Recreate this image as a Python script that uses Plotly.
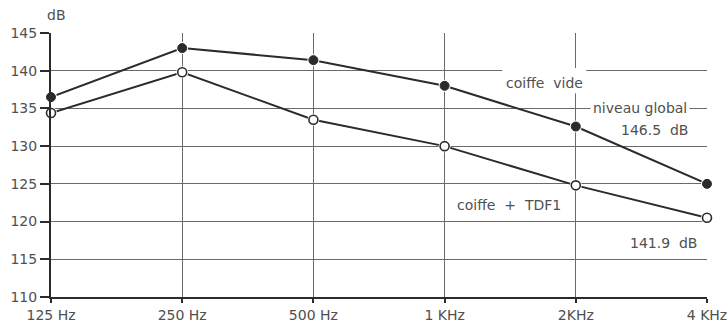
import plotly.graph_objects as go

categories = ["125 Hz", "250 Hz", "500 Hz", "1 KHz", "2KHz", "4 KHz"]
coiffe_vide = [136.5, 143.0, 141.4, 138.0, 132.6, 125.0]
coiffe_tdf1 = [134.4, 139.8, 133.5, 130.0, 124.8, 120.5]
y_ticks = [110, 115, 120, 125, 130, 135, 140, 145]

FONT = "DejaVu Sans, Liberation Sans, sans-serif"
INK = "#2b2b2b"
TXT = "#505050"
GRID = "#6a6a6a"

x_idx = list(range(len(categories)))

fig = go.Figure()
for series, filled in ((coiffe_vide, True), (coiffe_tdf1, False)):
    # connecting line
    fig.add_trace(go.Scatter(
        x=x_idx, y=series, mode="lines", cliponaxis=False,
        line=dict(color=INK, width=2), showlegend=False, hoverinfo="skip"))
    # small white halo around each point (pen-plot look)
    fig.add_trace(go.Scatter(
        x=x_idx, y=series, mode="markers", cliponaxis=False,
        marker=dict(symbol="circle", size=12, color="white", line=dict(width=0)),
        showlegend=False, hoverinfo="skip"))
    fig.add_trace(go.Scatter(
        x=x_idx, y=series, mode="markers", cliponaxis=False,
        marker=dict(symbol="circle", size=9,
                    color=INK if filled else "white",
                    line=dict(color=INK, width=1 if filled else 1.6)),
        showlegend=False, hoverinfo="skip"))

fig.update_layout(
    width=728, height=328,
    margin=dict(l=51, r=21, t=33, b=31, autoexpand=False),
    paper_bgcolor="white", plot_bgcolor="white",
    font=dict(family=FONT, size=14, color=TXT),
)
fig.update_xaxes(
    range=[0, 5], tickmode="array", tickvals=x_idx, ticktext=categories,
    automargin=False,
    showgrid=True, gridcolor=GRID, gridwidth=1,
    showline=True, linecolor=INK, linewidth=2,
    ticks="outside", ticklen=4, tickcolor=INK, tickwidth=1.5,
    tickfont=dict(family=FONT, size=14, color=TXT), zeroline=False,
)
fig.update_yaxes(
    range=[110, 145], tickmode="array", tickvals=y_ticks,
    ticktext=[str(v) for v in y_ticks],
    automargin=False,
    showgrid=True, gridcolor=GRID, gridwidth=1,
    showline=True, linecolor=INK, linewidth=2,
    ticks="outside", ticklen=9, tickcolor=INK, tickwidth=2,
    tickfont=dict(family=FONT, size=14, color=TXT), zeroline=False,
)

# white patch behind "coiffe vide" that interrupts the grid
fig.add_shape(type="rect", xref="x", yref="y", x0=3.44, x1=4.08, y0=137.0, y1=140.35,
              fillcolor="white", line=dict(width=0), layer="between")

ann = dict(showarrow=False, font=dict(family=FONT, size=14, color=TXT))
fig.add_annotation(x=3.765, y=138.4, text="coiffe  vide", **ann)
fig.add_annotation(x=4.49, y=135.0, text="niveau global", bgcolor="white", borderpad=2, **ann)
fig.add_annotation(x=4.60, y=132.1, text="146.5  dB", **ann)
fig.add_annotation(x=3.49, y=122.2, text="coiffe  +  TDF1", **ann)
fig.add_annotation(x=4.67, y=117.2, text="141.9  dB", **ann)
fig.add_annotation(xref="paper", yref="paper", x=0.009, y=1.0, yshift=18,
                   xanchor="center", yanchor="middle", text="dB", **ann)

fig.write_html(
    "out.html",
    config={"displayModeBar": False},
    post_script="document.body.style.margin='0';document.body.style.overflow='hidden';",
)
